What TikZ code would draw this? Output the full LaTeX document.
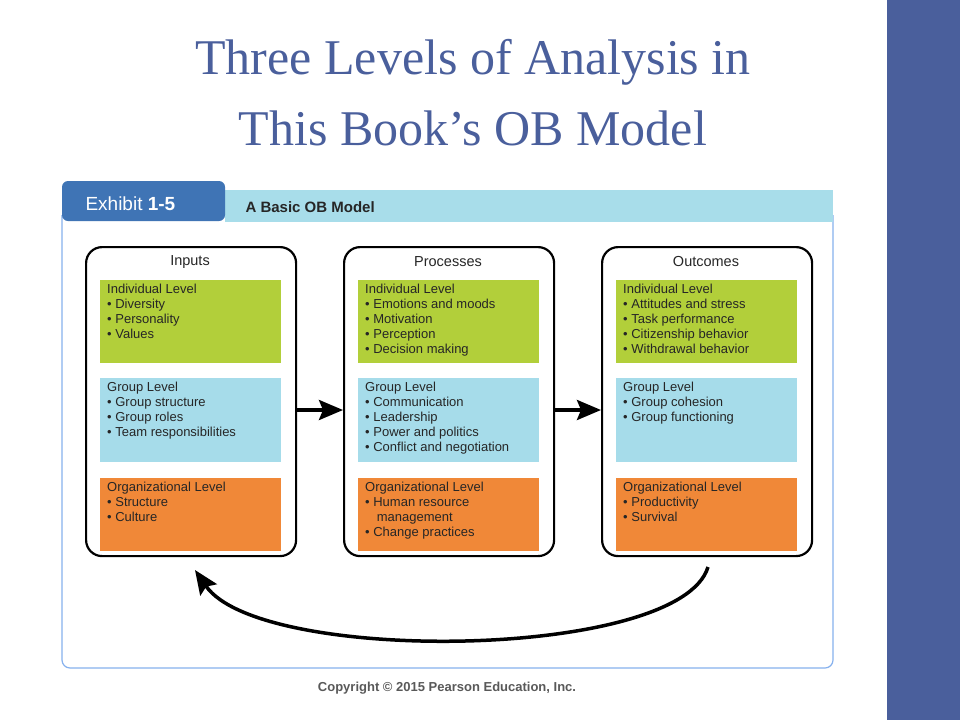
\documentclass[tikz,border=0pt]{standalone}
\usepackage{fontspec}
\setmainfont{Liberation Serif}
\setsansfont{Liberation Sans}
\usetikzlibrary{arrows.meta}
\definecolor{slide}{HTML}{4A5F9C}
\definecolor{tabblue}{HTML}{3F74B5}
\definecolor{barcyan}{HTML}{A8DDEA}
\definecolor{lvgreen}{HTML}{B2CF3A}
\definecolor{lvblue}{HTML}{A6DCEA}
\definecolor{lvorange}{HTML}{F08838}
\newcommand{\lvbox}[2]{\parbox[t][#1][t]{167pt}{\vspace*{1pt}#2}}
\tikzset{
  column/.style={draw=black,line width=2.2pt,rounded corners=16pt,minimum width=210pt,minimum height=309pt,anchor=north west},
  level/.style={anchor=north west,inner xsep=7pt,inner ysep=3pt,align=left,
    font=\sffamily\fontsize{13}{15}\selectfont,text=black!85},
  head/.style={font=\sffamily\fontsize{14.5}{16}\selectfont,text=black!85},
  flow/.style={line width=3.5pt,-{Stealth[length=24pt,width=20pt,inset=4pt]}}
}
\begin{document}
\begin{tikzpicture}[x=1pt,y=-1pt]
\useasboundingbox (0,0) rectangle (960,720);
\fill[white] (0,0) rectangle (960,720);
\fill[slide] (887,0) rectangle (960,720);
% title
\node[text=slide,font=\fontsize{50}{52}\selectfont] (title1) at (473,62) {Three Levels of Analysis in};
\node[text=slide,font=\fontsize{50}{52}\selectfont] (title2) at (473,128) {This Book’s OB Model};
% exhibit frame
\draw[barcyan!80!blue,line width=1.2pt,rounded corners=8pt] (62,215) -- (62,668) -- (833,668) -- (833,215);
\fill[barcyan] (225,190) rectangle (833,222);
\fill[tabblue,rounded corners=6pt] (62,221) -- (62,181) -- (225,181) -- (225,221) -- cycle;
\node[text=white,font=\sffamily\fontsize{19}{20}\selectfont,anchor=west] (tab) at (82,204) {Exhibit \textbf{1-5}};
\node[font=\sffamily\bfseries\fontsize{15}{16}\selectfont,text=black!85,anchor=west] (sub) at (242,207) {A Basic OB Model};
% columns
\foreach \n/\x/\h in {in/85/Inputs,pr/343/Processes,out/601/Outcomes}{
  \node[column] (\n) at (\x,246) {};
  \node[head] (\n-h) at (\x+105,262) {\h};
}
% inputs
\node[level,fill=lvgreen] (in-ind) at (100,280) {\lvbox{77pt}{Individual Level\\ • Diversity\\ • Personality\\ • Values}};
\node[level,fill=lvblue] (in-grp) at (100,378) {\lvbox{78pt}{Group Level\\ • Group structure\\ • Group roles\\ • Team responsibilities}};
\node[level,fill=lvorange] (in-org) at (100,478) {\lvbox{67pt}{Organizational Level\\ • Structure\\ • Culture}};
% processes
\node[level,fill=lvgreen] (pr-ind) at (358,280) {\lvbox{77pt}{Individual Level\\ • Emotions and moods\\ • Motivation\\ • Perception\\ • Decision making}};
\node[level,fill=lvblue] (pr-grp) at (358,378) {\lvbox{78pt}{Group Level\\ • Communication\\ • Leadership\\ • Power and politics\\ • Conflict and negotiation}};
\node[level,fill=lvorange] (pr-org) at (358,478) {\lvbox{67pt}{Organizational Level\\ • Human resource\\ \hspace*{0.9em}management\\ • Change practices}};
% outcomes
\node[level,fill=lvgreen] (out-ind) at (616,280) {\lvbox{77pt}{Individual Level\\ • Attitudes and stress\\ • Task performance\\ • Citizenship behavior\\ • Withdrawal behavior}};
\node[level,fill=lvblue] (out-grp) at (616,378) {\lvbox{78pt}{Group Level\\ • Group cohesion\\ • Group functioning}};
\node[level,fill=lvorange] (out-org) at (616,478) {\lvbox{67pt}{Organizational Level\\ • Productivity\\ • Survival}};
% connectors
\draw[flow] (in.east |- 0,410) -- (pr.west |- 0,410);
\draw[flow] (pr.east |- 0,410) -- (out.west |- 0,410);
\coordinate (fb-s) at (708,567);
\coordinate (fb-e) at (195,570);
\draw[flow] (fb-s) .. controls (680,660) and (260,665) .. (fb-e);
\node[text=black!65,font=\sffamily\bfseries\fontsize{13}{14}\selectfont] (copy) at (447,688) {Copyright © 2015 Pearson Education, Inc.};
\end{tikzpicture}
\end{document}
